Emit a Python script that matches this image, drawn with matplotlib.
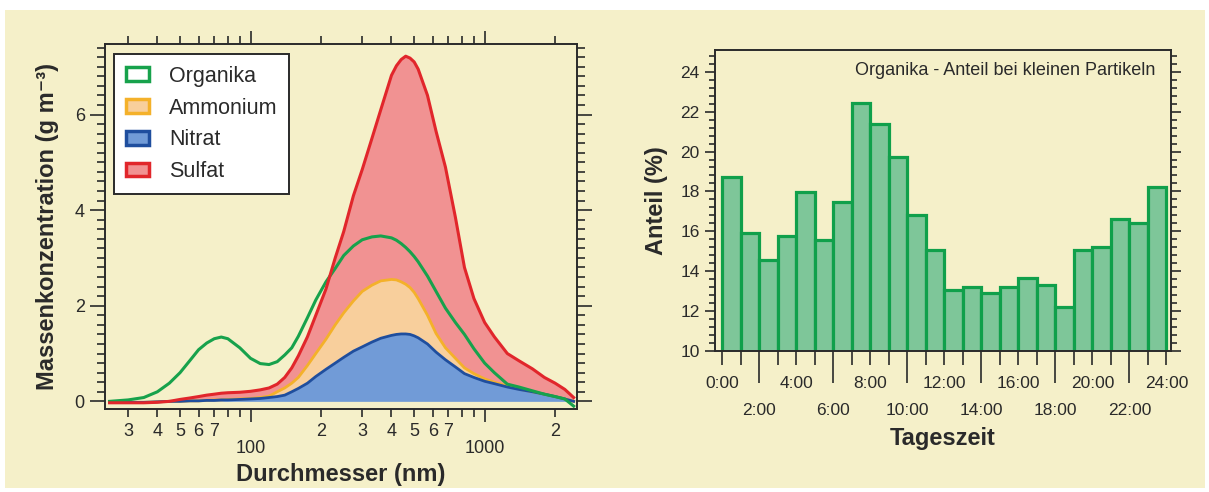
import matplotlib.pyplot as plt
from matplotlib.patches import Patch, Rectangle
from matplotlib.ticker import FixedLocator, FixedFormatter, MultipleLocator

plt.rcParams['font.family'] = ['Liberation Sans', 'DejaVu Sans']

# Left panel: mass size distribution (stacked tops)
diameter = [25, 30, 35, 40, 45, 50, 55, 60, 65, 70, 75, 80, 90, 100, 110, 120,
            130, 140, 150, 160, 175, 190, 210, 230, 250, 275, 300, 330, 360, 400,
            420, 440, 460, 480, 500, 520, 570, 620, 680, 750, 820, 900, 1000, 1100,
            1250, 1400, 1600, 1800, 2000, 2200, 2400]
nitrat = [-0.02, -0.02, -0.02, -0.01, 0.0, 0.0, 0.01, 0.01, 0.02, 0.02, 0.03, 0.03,
          0.04, 0.05, 0.06, 0.08, 0.1, 0.13, 0.2, 0.27, 0.38, 0.52, 0.67, 0.8,
          0.92, 1.05, 1.14, 1.24, 1.32, 1.38, 1.40, 1.41, 1.41, 1.4, 1.37, 1.33,
          1.2, 1.03, 0.87, 0.72, 0.58, 0.5, 0.42, 0.37, 0.3, 0.25, 0.2, 0.15, 0.1,
          0.05, 0.0]
ammonium_top = [-0.02, -0.02, -0.02, -0.01, 0.0, 0.0, 0.01, 0.01, 0.02, 0.03, 0.03,
                0.04, 0.05, 0.06, 0.08, 0.11, 0.2, 0.28, 0.38, 0.5, 0.75, 1.0, 1.3,
                1.6, 1.85, 2.1, 2.3, 2.43, 2.52, 2.55, 2.54, 2.5, 2.45, 2.38, 2.28,
                2.15, 1.8, 1.42, 1.12, 0.9, 0.7, 0.58, 0.47, 0.4, 0.32, 0.26, 0.2,
                0.15, 0.1, 0.05, 0.0]
sulfat_top = [-0.03, -0.03, -0.03, -0.02, 0.0, 0.04, 0.07, 0.1, 0.13, 0.15, 0.17,
              0.18, 0.19, 0.21, 0.24, 0.28, 0.36, 0.5, 0.7, 0.95, 1.35, 1.8, 2.35,
              3.0, 3.55, 4.3, 4.85, 5.5, 6.1, 6.82, 7.02, 7.15, 7.22, 7.18, 7.1,
              6.95, 6.4, 5.65, 4.9, 3.85, 2.8, 2.15, 1.65, 1.35, 1.0, 0.85, 0.68,
              0.5, 0.38, 0.25, 0.08]
organika = [0.0, 0.03, 0.08, 0.2, 0.38, 0.6, 0.85, 1.08, 1.22, 1.31, 1.345, 1.31,
            1.12, 0.9, 0.79, 0.77, 0.83, 0.97, 1.12, 1.36, 1.75, 2.12, 2.5, 2.78,
            3.05, 3.25, 3.38, 3.44, 3.46, 3.42, 3.37, 3.3, 3.22, 3.13, 3.03, 2.92,
            2.62, 2.3, 1.95, 1.65, 1.4, 1.1, 0.8, 0.6, 0.36, 0.3, 0.22, 0.15, 0.1,
            0.05, -0.1]

# Right panel: organic fraction per hour of day
hours = list(range(24))
anteil = [18.7, 15.9, 14.55, 15.75, 17.95, 15.55, 17.45, 22.45, 21.4, 19.75, 16.8,
          15.05, 13.05, 13.2, 12.92, 13.22, 13.65, 13.28, 12.18, 15.05, 15.2, 16.6,
          16.4, 18.2]
hour_labels_top = ['0:00', '4:00', '8:00', '12:00', '16:00', '20:00', '24:00']
hour_labels_low = ['2:00', '6:00', '10:00', '14:00', '18:00', '22:00']

cream = '#f5f0c9'
dark = '#2a2a2a'

fig = plt.figure(figsize=(12.09, 4.92), dpi=100, facecolor='white')
fig.patches.append(Rectangle((5 / 1209, 4 / 492), 1200 / 1209, 478 / 492,
                             transform=fig.transFigure, facecolor=cream,
                             edgecolor='none', zorder=-10))

# ---------------- left panel ----------------
ax1 = fig.add_axes([105 / 1209, 83 / 492, 472 / 1209, 365 / 492])
ax1.set_facecolor(cream)
ax1.set_xscale('log')
ax1.fill_between(diameter, 0, nitrat, color='#719bd7', lw=0)
ax1.fill_between(diameter, nitrat, ammonium_top, color='#f8cf9c', lw=0)
ax1.fill_between(diameter, ammonium_top, sulfat_top, color='#f19292', lw=0)
ax1.plot(diameter, ammonium_top, color='#f4b12a', lw=2.0)
ax1.plot(diameter, nitrat, color='#1f4e9e', lw=2.0)
ax1.plot(diameter, organika, color='#17a24c', lw=2.2)
ax1.plot(diameter, sulfat_top, color='#e1262b', lw=2.2)

ax1.set_xlim(23.9, 2480)
ax1.set_ylim(-0.16, 7.475)
ax1.xaxis.set_major_locator(FixedLocator([100, 1000]))
ax1.xaxis.set_major_formatter(FixedFormatter(['100', '1000']))
minor_x = [30, 40, 50, 60, 70, 80, 90, 200, 300, 400, 500, 600, 700, 800, 900, 2000]
minor_lab = ['3', '4', '5', '6', '7', '', '', '2', '3', '4', '5', '6', '7', '', '', '2']
ax1.xaxis.set_minor_locator(FixedLocator(minor_x))
ax1.xaxis.set_minor_formatter(FixedFormatter(minor_lab))
ax1.set_yticks([0, 2, 4, 6])
ax1.yaxis.set_minor_locator(MultipleLocator(0.2))

ax1.tick_params(axis='x', which='major', direction='out', length=9.5, width=1.2,
                pad=12.5, labelsize=13, top=True, colors=dark)
ax1.tick_params(axis='x', which='minor', direction='out', length=5.5, width=1.2,
                pad=4.5, labelsize=13, top=True, colors=dark)
ax1.tick_params(axis='y', which='major', direction='out', length=10.5, width=1.2,
                pad=4, labelsize=13, right=True, colors=dark)
ax1.tick_params(axis='y', which='minor', direction='out', length=5.5, width=1.2,
                right=True, colors=dark)
for s in ax1.spines.values():
    s.set_linewidth(1.4)
    s.set_color(dark)

ax1.set_xlabel('Durchmesser (nm)', fontsize=17, fontweight='bold', labelpad=5,
               color=dark)
ax1.set_ylabel('Massenkonzentration (g m⁻³)', fontsize=17, fontweight='bold',
               labelpad=11, color=dark)

handles = [Patch(facecolor='white', edgecolor='#17a24c', lw=2.5, label='Organika'),
           Patch(facecolor='#f8cf9c', edgecolor='#f4b12a', lw=2.5, label='Ammonium'),
           Patch(facecolor='#719bd7', edgecolor='#1f4e9e', lw=2.5, label='Nitrat'),
           Patch(facecolor='#f19292', edgecolor='#e1262b', lw=2.5, label='Sulfat')]
leg = ax1.legend(handles=handles, loc='upper left', bbox_to_anchor=(0.019, 0.9726),
                 borderaxespad=0, fontsize=15.5, handlelength=1.1, handleheight=0.6,
                 handletextpad=0.9, labelspacing=0.5, fancybox=False,
                 framealpha=1, edgecolor=dark, borderpad=0.55)
leg.get_frame().set_linewidth(1.4)
for t in leg.get_texts():
    t.set_color(dark)

# ---------------- right panel ----------------
ax2 = fig.add_axes([715 / 1209, 141.3 / 492, 456 / 1209, 300.7 / 492])
ax2.set_facecolor(cream)
ax2.bar(hours, anteil, width=1, align='edge', color='#7ec699',
        edgecolor='#10a04b', linewidth=2.3)
ax2.set_xlim(-0.39, 24.25)
ax2.set_ylim(10, 25.1)
ax2.set_xticks(range(0, 25, 4), labels=hour_labels_top)
ax2.set_xticks(range(1, 24, 2), minor=True)
ax2.set_yticks(range(10, 25, 2))
ax2.yaxis.set_minor_locator(MultipleLocator(0.4))
ax2.tick_params(axis='x', which='both', direction='out', length=10, width=1.2,
                pad=8.5, labelsize=12.5, colors=dark)
ax2.tick_params(axis='y', which='major', direction='out', length=7.5, width=1.2,
                pad=3.5, labelsize=12.5, right=True, colors=dark)
ax2.tick_params(axis='y', which='minor', direction='out', length=4, width=1.2,
                right=True, colors=dark)

sec = ax2.secondary_xaxis('bottom')
sec.set_xticks(range(2, 23, 4), labels=hour_labels_low)
sec.tick_params(direction='out', length=23, width=1.2, pad=14.5, labelsize=12.5,
                colors=dark)
sec.spines['bottom'].set_visible(False)

for s in ax2.spines.values():
    s.set_linewidth(1.4)
    s.set_color(dark)

sec.set_xlabel('Tageszeit', fontsize=17, fontweight='bold', labelpad=6.5, color=dark)
ax2.set_ylabel('Anteil (%)', fontsize=17, fontweight='bold', labelpad=9, color=dark)
ax2.text(0.965, 0.933, 'Organika - Anteil bei kleinen Partikeln', transform=ax2.transAxes,
         ha='right', va='center', fontsize=13, color=dark)

fig.savefig('out.png', dpi=100, facecolor='white')
